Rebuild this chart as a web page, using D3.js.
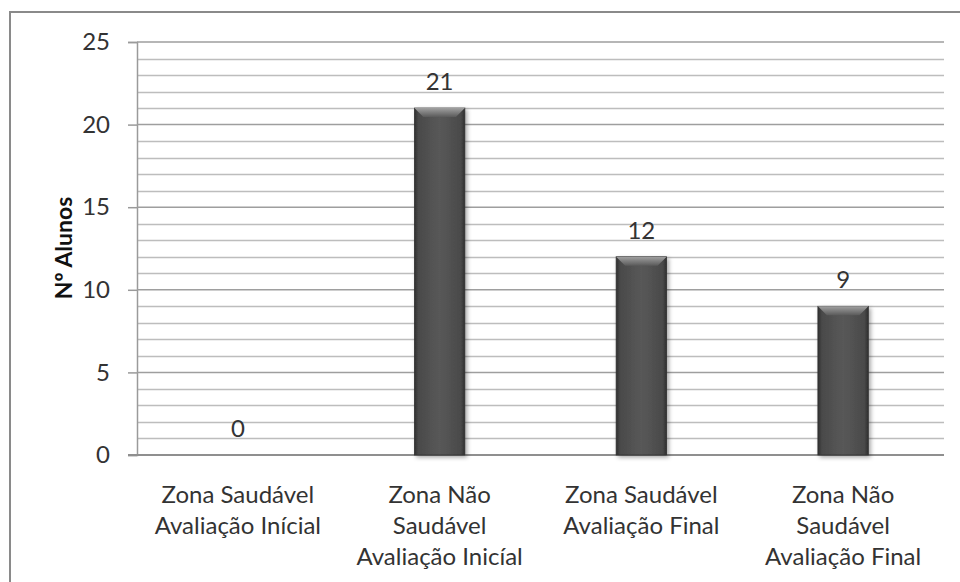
<!DOCTYPE html>
<html>
<head>
<meta charset="utf-8">
<script src="https://cdn.jsdelivr.net/npm/d3@7/dist/d3.min.js"></script>
<style>
  html, body { margin: 0; padding: 0; background: #fff; }
  svg { display: block; }
  text { font-family: Lato, "Open Sans", sans-serif; }
</style>
</head>
<body>
<svg id="chart" width="960" height="582"></svg>
<script>
const categories = [
  ["Zona Saudável", "Avaliação Inícial"],
  ["Zona Não", "Saudável", "Avaliação Inicíal"],
  ["Zona Saudável", "Avaliação Final"],
  ["Zona Não", "Saudável", "Avaliação Final"]
];
const values = [0, 21, 12, 9];
const yTicks = [0, 5, 10, 15, 20, 25];
const yTitle = "Nº Alunos";

(function () {
const svg = d3.select("#chart");
const pLeft = 137, pRight = 944, pTop = 42, pBottom = 455;
const rows = values.map((v, i) => ({ i, v }));

const x = d3.scaleBand().domain(d3.range(categories.length)).range([pLeft, pRight]).paddingInner(0.75).paddingOuter(0.375);
const y = d3.scaleLinear().domain([0, 25]).range([pBottom, pTop]);

// frame
svg.append("path")
  .attr("d", `M10,582 L10,12 L962,12`)
  .attr("fill", "none").attr("stroke", "#8a8a8a").attr("stroke-width", 2);

// minor gridlines
const minor = d3.range(1, 25).filter(v => v % 5 !== 0);
svg.append("g").selectAll("line").data(minor).join("line")
  .attr("x1", pLeft).attr("x2", pRight)
  .attr("y1", d => Math.round(y(d)) + 0.5).attr("y2", d => Math.round(y(d)) + 0.5)
  .attr("stroke", "#bdbdbd").attr("stroke-width", 1.3);

// y axis with major gridlines
const yAxis = d3.axisLeft(y).tickValues(yTicks).tickSize(9).tickPadding(18).tickFormat(d3.format("d"));
const gy = svg.append("g").attr("transform", `translate(${pLeft},0)`).call(yAxis);
gy.select(".domain").attr("stroke", "#9a9a9a").attr("stroke-width", 1.5);
gy.selectAll(".tick line").attr("stroke", "#9a9a9a").attr("stroke-width", 1.5);
gy.selectAll(".tick text").attr("fill", "#333").style("font-size", "24px").style("font-family", "Lato, sans-serif");
svg.append("g").selectAll("line").data(yTicks.filter(d => d > 0)).join("line")
  .attr("x1", pLeft).attr("x2", pRight)
  .attr("y1", d => y(d)).attr("y2", d => y(d))
  .attr("stroke", "#9e9e9e").attr("stroke-width", 1.5);
svg.append("line").attr("x1", pLeft - 9).attr("x2", pRight)
  .attr("y1", y(0)).attr("y2", y(0)).attr("stroke", "#8f8f8f").attr("stroke-width", 2);

// gradients
const defs = svg.append("defs");
const g1 = defs.append("linearGradient").attr("id", "barGrad").attr("x1", "0").attr("x2", "1").attr("y1", "0").attr("y2", "0");
g1.append("stop").attr("offset", "0").attr("stop-color", "#2f2f2f");
g1.append("stop").attr("offset", "0.08").attr("stop-color", "#4a4a4a");
g1.append("stop").attr("offset", "0.5").attr("stop-color", "#585858");
g1.append("stop").attr("offset", "0.92").attr("stop-color", "#4a4a4a");
g1.append("stop").attr("offset", "1").attr("stop-color", "#2f2f2f");
const g2 = defs.append("linearGradient").attr("id", "bevGrad").attr("x1", "0").attr("x2", "0").attr("y1", "0").attr("y2", "1");
g2.append("stop").attr("offset", "0").attr("stop-color", "#a0a0a0");
g2.append("stop").attr("offset", "1").attr("stop-color", "#5a5a5a");
const f = defs.append("filter").attr("id", "shadow").attr("x", "-20%").attr("y", "-5%").attr("width", "150%").attr("height", "115%");
f.append("feDropShadow").attr("dx", 2).attr("dy", 2).attr("stdDeviation", 2).attr("flood-color", "#000").attr("flood-opacity", 0.35);

// bars
const bars = svg.append("g").selectAll("g").data(rows.filter(r => r.v > 0)).join("g");
bars.append("rect")
  .attr("x", r => x(r.i)).attr("y", r => y(r.v))
  .attr("width", x.bandwidth()).attr("height", r => y(0) - y(r.v))
  .attr("fill", "url(#barGrad)").attr("stroke", "#333").attr("stroke-width", 0.8)
  .attr("filter", "url(#shadow)");
bars.append("path")
  .attr("d", r => {
    const x0 = x(r.i), x1 = x(r.i) + x.bandwidth(), t = y(r.v), b = 9;
    return `M${x0},${t} L${x1},${t} L${x1 - b},${t + b} L${x0 + b},${t + b} Z`;
  })
  .attr("fill", "url(#bevGrad)");

// value labels
svg.append("g").selectAll("text").data(rows).join("text")
  .attr("x", r => x(r.i) + x.bandwidth() / 2)
  .attr("y", r => y(r.v) - 18)
  .attr("text-anchor", "middle").attr("fill", "#333")
  .style("font-size", "24px")
  .text(r => r.v);

// category labels
const cl = svg.append("g").selectAll("text").data(categories).join("text")
  .attr("x", (d, i) => x(i) + x.bandwidth() / 2)
  .attr("y", 503)
  .attr("text-anchor", "middle").attr("fill", "#333")
  .style("font-size", "24px");
cl.selectAll("tspan").data(d => d).join("tspan")
  .attr("x", function() { return this.parentNode.getAttribute("x"); })
  .attr("dy", (d, j) => j === 0 ? 0 : 31)
  .text(d => d);

// y title
svg.append("text")
  .attr("transform", `translate(72,248) rotate(-90)`)
  .attr("text-anchor", "middle").attr("fill", "#111")
  .style("font-size", "23px").style("font-weight", "bold")
  .text(yTitle);
})();
</script>
</body>
</html>
